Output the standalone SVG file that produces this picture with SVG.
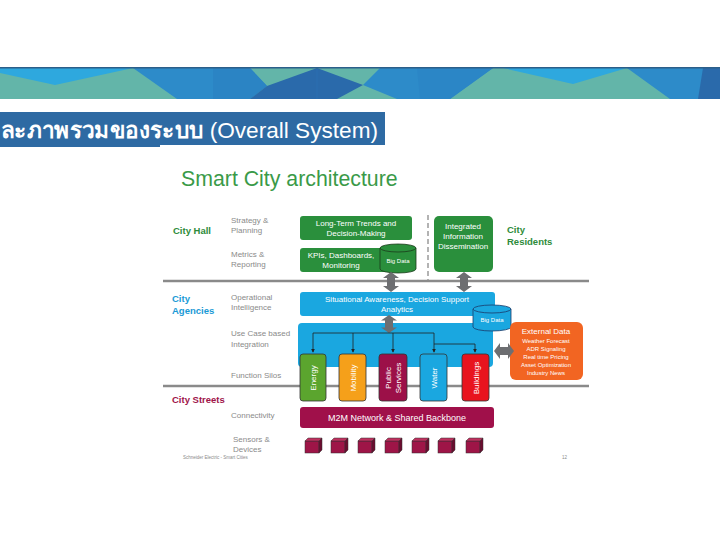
<svg xmlns="http://www.w3.org/2000/svg" width="720" height="540" viewBox="0 0 720 540">
<style>
.lbl{font-family:"Liberation Sans","Noto Sans",sans-serif;font-size:8px;fill:#8a8a8a}
.grp{font-family:"Liberation Sans","Noto Sans",sans-serif;font-size:9.5px;font-weight:bold}
.bt{font-family:"Liberation Sans","Noto Sans",sans-serif;font-size:8px;fill:#fff;text-anchor:middle}
.st{font-family:"Liberation Sans","Noto Sans",sans-serif;font-size:9px;fill:#fff;text-anchor:middle}
.ex{font-family:"Liberation Sans","Noto Sans",sans-serif;font-size:6px;fill:#fff;text-anchor:middle}
.silo{stroke:#333;stroke-width:0.8}
.conn{fill:none;stroke:#222;stroke-width:0.8}
.garrow{fill:#6d6e71}
.cube-f{fill:#9e1547;stroke:#333;stroke-width:0.5}
.cube-t{fill:#c0305f;stroke:#333;stroke-width:0.5}
.cube-s{fill:#6b0c2f;stroke:#333;stroke-width:0.5}
</style>
<defs>
<marker id="ah" viewBox="0 0 6 6" refX="5" refY="3" markerWidth="5" markerHeight="5" orient="auto">
<path d="M0,0 L6,3 L0,6 Z" fill="#222"/>
</marker>
<path id="dbl" d="M0,0 L8,6 L4,6 L4,14 L8,14 L0,20 L-8,14 L-4,14 L-4,6 L-8,6 Z"/>
<g id="cube">
<rect class="cube-f" x="0" y="3" width="14" height="12"/>
<polygon class="cube-t" points="0,3 3,0 17,0 14,3"/>
<polygon class="cube-s" points="14,3 17,0 17,12 14,15"/>
</g>
</defs>
<rect width="720" height="540" fill="#fff"/>

<!-- banner -->
<g id="banner">
<rect x="0" y="68" width="720" height="31" fill="#63b5a9"/>
<polygon points="0,68 133,68 55,85 0,73" fill="#2ea8de"/>
<polygon points="133,68 250,68 267,86 250,99 177,99" fill="#2d8bc9"/>
<polygon points="213,68 250,68 267,86 250,99 213,99" fill="#2b84c4"/>
<polygon points="267,86 317,68 363,85 337,99 250,99" fill="#2a6aab"/>
<line x1="317" y1="68" x2="317" y2="99" stroke="#2d74b5" stroke-width="0.6"/>
<polygon points="363,85 380,68 493,68 450,99 397,99" fill="#2d8bc9"/>
<polygon points="417,68 493,68 450,99 420,99" fill="#2b86c6"/>
<polygon points="503,68 627,68 573,84" fill="#2ea8de"/>
<polygon points="627,68 720,68 720,99 670,99" fill="#2d8bc9"/>
<polygon points="703,68 720,68 720,99 698,99" fill="#2a6aab"/>
<rect x="0" y="67" width="720" height="1.5" fill="#2c5f8a"/>
</g>

<!-- title -->
<g id="title">
<rect x="0" y="112" width="385" height="35" fill="#2e6aa3"/>
<rect x="160" y="145" width="226" height="3" fill="#fff"/>
<text x="1" y="138" textLength="377" lengthAdjust="spacingAndGlyphs" font-family="Liberation Sans, Noto Sans, DejaVu Sans, sans-serif" font-size="22" fill="#fff"><tspan font-weight="bold">ละภาพรวมของระบบ</tspan> (Overall System)</text>
</g>

<text x="181" y="186" font-family="Liberation Sans, sans-serif" font-size="21.3" fill="#3a9a48">Smart City architecture</text>

<!-- separators -->
<g id="separators">
<line x1="163" y1="281" x2="589" y2="281" stroke="#8a8a8a" stroke-width="2.5"/>
<line x1="163" y1="386" x2="589" y2="386" stroke="#8a8a8a" stroke-width="2.5"/>
<line x1="428" y1="215" x2="428" y2="280" stroke="#9a9a9a" stroke-width="1.5" stroke-dasharray="5,3"/>
</g>

<!-- layer labels -->
<g id="labels">
<text class="grp" x="173" y="234" fill="#2e8b3a">City Hall</text>
<text class="lbl" x="231" y="223">Strategy &amp;</text>
<text class="lbl" x="231" y="233">Planning</text>
<text class="lbl" x="231" y="257">Metrics &amp;</text>
<text class="lbl" x="231" y="267">Reporting</text>
<text class="grp" x="172" y="302" fill="#1a9ad6">City</text>
<text class="grp" x="172" y="314" fill="#1a9ad6">Agencies</text>
<text class="lbl" x="231" y="300">Operational</text>
<text class="lbl" x="231" y="310">Intelligence</text>
<text class="lbl" x="231" y="336">Use Case based</text>
<text class="lbl" x="231" y="347">Integration</text>
<text class="lbl" x="231" y="378">Function Silos</text>
<text class="grp" x="172" y="403" fill="#a0144a">City Streets</text>
<text class="lbl" x="231" y="418">Connectivity</text>
<text class="lbl" x="233" y="442">Sensors &amp;</text>
<text class="lbl" x="233" y="452">Devices</text>
<text x="183" y="459" font-family="Liberation Sans, sans-serif" font-size="4.5" fill="#8a8a8a">Schneider Electric - Smart Cities</text>
<text x="562" y="459" font-family="Liberation Sans, sans-serif" font-size="4.5" fill="#8a8a8a">12</text>
<text class="grp" x="507" y="233" fill="#2e8b3a">City</text>
<text class="grp" x="507" y="245" fill="#2e8b3a">Residents</text>
</g>

<!-- City hall boxes -->
<g id="n-longterm">
<rect x="300" y="216" width="112" height="24" rx="3" fill="#2a8f3c"/>
<text class="bt" x="356" y="226">Long-Term Trends and</text>
<text class="bt" x="356" y="236">Decision-Making</text>
</g>
<g id="n-kpi">
<rect x="300" y="248" width="108" height="24" rx="3" fill="#2a8f3c"/>
<text class="bt" x="341" y="258">KPIs, Dashboards,</text>
<text class="bt" x="341" y="268">Monitoring</text>
</g>
<g id="n-bigdata1">
<path d="M380,248 L380,269 A18,4 0 0 0 416,269 L416,248" fill="#2a8f3c" stroke="#1a3a1a" stroke-width="0.8"/>
<ellipse cx="398" cy="248" rx="18" ry="4" fill="#2a8f3c" stroke="#1a3a1a" stroke-width="0.8"/>
<text class="ex" x="398" y="263" font-size="6.5">Big Data</text>
</g>
<g id="n-integrated">
<rect x="434" y="216" width="59" height="56" rx="5" fill="#2a8f3c"/>
<text class="bt" x="463" y="229">Integrated</text>
<text class="bt" x="463" y="239">Information</text>
<text class="bt" x="463" y="249">Dissemination</text>
</g>

<!-- agencies -->
<g id="n-integration">
<rect x="298" y="323" width="195" height="44" rx="4" fill="#1aa7e0"/>
</g>
<g id="n-situational">
<rect x="300" y="292" width="195" height="24" rx="3" fill="#1aa7e0"/>
<text class="bt" x="397" y="302">Situational Awareness, Decision Support</text>
<text class="bt" x="397" y="312">Analytics</text>
</g>
<g id="n-bigdata2">
<path d="M473,309 L473,327 A19,4 0 0 0 511,327 L511,309" fill="#1aa7e0" stroke="#1a3a6a" stroke-width="0.8"/>
<ellipse cx="492" cy="309" rx="19" ry="4" fill="#1aa7e0" stroke="#1a3a6a" stroke-width="0.8"/>
<text class="ex" x="492" y="322" font-size="5.5">Big Data</text>
</g>
<g id="n-external">
<rect x="510" y="322" width="73" height="58" rx="6" fill="#f26522"/>
<text class="bt" x="546" y="334">External Data</text>
<text class="ex" x="546" y="343">Weather Forecast</text>
<text class="ex" x="546" y="351">ADR Signaling</text>
<text class="ex" x="546" y="359">Real time Pricing</text>
<text class="ex" x="546" y="367">Asset Optimization</text>
<text class="ex" x="546" y="375">Industry News</text>
</g>

<!-- silos -->
<g id="n-energy">
<rect class="silo" x="300" y="354" width="26" height="47" rx="3" fill="#5ba52e"/>
<text class="bt" transform="translate(316,378) rotate(-90)">Energy</text>
</g>
<g id="n-mobility">
<rect class="silo" x="339" y="354" width="27" height="47" rx="3" fill="#f5a01a"/>
<text class="bt" transform="translate(356,378) rotate(-90)">Mobility</text>
</g>
<g id="n-public">
<rect class="silo" x="379" y="354" width="28" height="47" rx="3" fill="#9c1048"/>
<text class="bt" transform="translate(391,378) rotate(-90)">Public</text>
<text class="bt" transform="translate(401,378) rotate(-90)">Services</text>
</g>
<g id="n-water">
<rect class="silo" x="420" y="354" width="27" height="47" rx="3" fill="#1aa7e0"/>
<text class="bt" transform="translate(437,378) rotate(-90)">Water</text>
</g>
<g id="n-buildings">
<rect class="silo" x="462" y="354" width="27" height="47" rx="3" fill="#e8141e"/>
<text class="bt" transform="translate(479,378) rotate(-90)">Buildings</text>
</g>

<g id="n-m2m">
<rect x="300" y="407" width="194" height="21" rx="3" fill="#a0104a"/>
<text class="st" x="397" y="421">M2M Network &amp; Shared Backbone</text>
</g>

<g id="n-sensors">
<use href="#cube" x="305" y="438"/>
<use href="#cube" x="331" y="438"/>
<use href="#cube" x="358" y="438"/>
<use href="#cube" x="385" y="438"/>
<use href="#cube" x="412" y="438"/>
<use href="#cube" x="438" y="438"/>
<use href="#cube" x="466" y="438"/>
</g>

<!-- connectors -->
<g id="connectors">
<use href="#dbl" class="garrow" transform="translate(391,272)"/>
<use href="#dbl" class="garrow" transform="translate(464,272)"/>
<use href="#dbl" class="garrow" transform="translate(389,315) scale(1,0.9)"/>
<use href="#dbl" class="garrow" transform="translate(494,351) rotate(-90)"/>
<polyline class="conn" points="313,333 434,333"/>
<line class="conn" x1="313" y1="333" x2="313" y2="352" marker-end="url(#ah)"/>
<line class="conn" x1="353" y1="333" x2="353" y2="352" marker-end="url(#ah)"/>
<line class="conn" x1="393" y1="333" x2="393" y2="352" marker-end="url(#ah)"/>
<line class="conn" x1="434" y1="333" x2="434" y2="352" marker-end="url(#ah)"/>
<polyline class="conn" points="434,344 475,344 475,352" marker-end="url(#ah)"/>
</g>
</svg>
